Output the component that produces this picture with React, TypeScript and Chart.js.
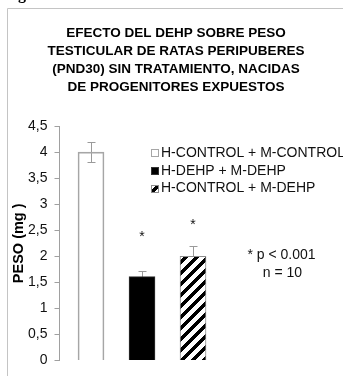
import React, { useEffect, useRef } from 'react';
import { Chart, registerables } from 'chart.js';

Chart.register(...registerables);

const FONT = '"Liberation Sans", Arial, sans-serif';

const titleLines = [
  'EFECTO DEL DEHP SOBRE PESO',
  'TESTICULAR DE RATAS PERIPUBERES',
  '(PND30) SIN TRATAMIENTO, NACIDAS',
  'DE PROGENITORES EXPUESTOS',
];
const groups = ['H-CONTROL + M-CONTROL', 'H-DEHP + M-DEHP', 'H-CONTROL + M-DEHP'];
const groupX = [1, 2, 3];
const means = [4.0, 1.61, 2.0];
const errors = [0.2, 0.11, 0.2];
const sigMarks = ['', '*', '*'];
const sigMarkY = [null, 2.45, 2.68];
const yMin = 0;
const yMax = 4.5;
const yStep = 0.5;
const yTitle = 'PESO (mg )';
const notes = ['* p < 0.001', 'n = 10'];

function makeHatch(): CanvasPattern | string {
  const size = 11;
  const c = document.createElement('canvas');
  c.width = size;
  c.height = size;
  const cx = c.getContext('2d');
  if (!cx) return '#000';
  const img = cx.createImageData(size, size);
  for (let y = 0; y < size; y++) {
    for (let x = 0; x < size; x++) {
      const k = (y * size + x) * 4;
      const m = (x + y) % size;
      const black = m < 5;
      const v = black ? 0 : 255;
      img.data[k] = v;
      img.data[k + 1] = v;
      img.data[k + 2] = v;
      img.data[k + 3] = 255;
    }
  }
  cx.putImageData(img, 0, 0);
  const p = cx.createPattern(c, 'repeat');
  return p || '#000';
}

export default function App() {
  const ref = useRef<HTMLCanvasElement | null>(null);

  useEffect(() => {
    const canvas = ref.current;
    if (!canvas) return;
    const hatch = makeHatch();
    const fills: any[] = ['rgba(255,255,255,0)', '#000000', hatch];
    const legendFills: any[] = ['#ffffff', '#000000', hatch];
    const borders = ['#a6a6a6', '#333333', '#8c8c8c'];

    const decor = {
      id: 'decor',
      beforeDraw(chart: any) {
        const ctx = chart.ctx;
        ctx.save();
        ctx.fillStyle = '#ffffff';
        ctx.fillRect(0, 0, chart.width, chart.height);
        ctx.strokeStyle = '#c4c4c4';
        ctx.lineWidth = 1;
        ctx.beginPath();
        ctx.moveTo(7.5, chart.height);
        ctx.lineTo(7.5, 8.5);
        ctx.lineTo(chart.width, 8.5);
        ctx.stroke();
        ctx.fillStyle = '#000';
        ctx.font = 'bold 16px "Liberation Serif", serif';
        ctx.textBaseline = 'alphabetic';
        ctx.textAlign = 'left';
        ctx.fillText('g', 18, -1);
        ctx.restore();
      },
    };

    const errorBars = {
      id: 'errorBars',
      beforeDatasetsDraw(chart: any) {
        const ctx = chart.ctx;
        const ys = chart.scales.y;
        ctx.save();
        ctx.strokeStyle = '#9a9a9a';
        ctx.lineWidth = 1;
        chart.data.datasets.forEach((_ds: any, i: number) => {
          const el = chart.getDatasetMeta(i).data[0];
          if (!el) return;
          const x = Math.round(el.x) + 0.5;
          const yt = Math.round(ys.getPixelForValue(means[i] + errors[i])) + 0.5;
          const yb = Math.round(ys.getPixelForValue(means[i] - errors[i])) + 0.5;
          ctx.beginPath();
          ctx.moveTo(x, yt);
          ctx.lineTo(x, yb);
          ctx.moveTo(x - 4, yt);
          ctx.lineTo(x + 4, yt);
          ctx.moveTo(x - 4, yb);
          ctx.lineTo(x + 4, yb);
          ctx.stroke();
        });
        ctx.restore();
      },
    };

    const annotations = {
      id: 'annotations',
      afterDatasetsDraw(chart: any) {
        const ctx = chart.ctx;
        const ys = chart.scales.y;
        const area = chart.chartArea;
        ctx.save();
        ctx.fillStyle = '#111';
        ctx.textAlign = 'center';
        ctx.textBaseline = 'alphabetic';
        ctx.font = `14px ${FONT}`;
        chart.data.datasets.forEach((_ds: any, i: number) => {
          const el = chart.getDatasetMeta(i).data[0];
          const sy = sigMarkY[i];
          if (!el || sy == null || !sigMarks[i]) return;
          ctx.fillText(sigMarks[i], el.x, ys.getPixelForValue(sy) + 8);
        });
        ctx.textBaseline = 'middle';
        ctx.fillText(notes[0], area.left + 222, 255);
        ctx.fillText(notes[1], area.left + 223, 273);

        ctx.textAlign = 'left';
        ctx.font = `14px ${FONT}`;
        const rows = [153, 171, 188.5];
        chart.data.datasets.forEach((ds: any, i: number) => {
          const ry = rows[i];
          const bx = 151.5;
          const by = Math.round(ry - 4) + 0.5;
          ctx.fillStyle = legendFills[i];
          ctx.fillRect(bx, by, 7, 7);
          ctx.strokeStyle = borders[i];
          ctx.lineWidth = 1;
          ctx.strokeRect(bx, by, 7, 7);
          ctx.fillStyle = '#111';
          ctx.fillText(ds.label, 161, ry);
        });
        ctx.restore();
      },
    };

    const chart = new Chart(canvas, {
      type: 'bar',
      data: {
        datasets: groups.map((g, i) => ({
          label: g,
          data: [{ x: groupX[i], y: means[i] }],
          backgroundColor: fills[i],
          borderColor: borders[i],
          borderWidth: 1,
          barThickness: 26,
          grouped: false,
        })),
      },
      options: {
        animation: false,
        responsive: false,
        devicePixelRatio: 1,
        layout: { padding: { left: 9, right: 0, top: 0, bottom: 8 } },
        plugins: {
          legend: { display: false },
          tooltip: { enabled: false },
          title: {
            display: true,
            text: titleLines,
            color: '#000',
            font: { family: FONT, size: 13.5, weight: 'bold', lineHeight: 18 / 13.5 },
            padding: { top: 24, bottom: 30 },
          },
        },
        scales: {
          x: {
            type: 'linear',
            min: 0.382,
            max: 5.941,
            offset: false,
            display: false,
          },
          y: {
            min: yMin,
            max: yMax,
            ticks: {
              stepSize: yStep,
              color: '#111',
              padding: 7,
              font: { family: FONT, size: 14 },
              callback: (v: any) => String(v).replace('.', ','),
            },
            grid: { drawOnChartArea: false, tickLength: 5, color: '#a0a0a0' },
            border: { color: '#a0a0a0' },
            title: {
              display: true,
              text: yTitle,
              color: '#000',
              font: { family: FONT, size: 14.5, weight: 'bold' },
              padding: { top: 1.3, bottom: 0 },
            },
            afterFit: (s: any) => {
              s.width = 50.5;
            },
          },
        },
      } as any,
      plugins: [decor, errorBars, annotations],
    });
    return () => chart.destroy();
  }, []);

  return (
    <div style={{ position: 'fixed', left: 0, top: 0, width: 343, height: 376, background: '#fff' }}>
      <canvas ref={ref} width={343} height={376} style={{ width: 343, height: 376, display: 'block' }} />
    </div>
  );
}
